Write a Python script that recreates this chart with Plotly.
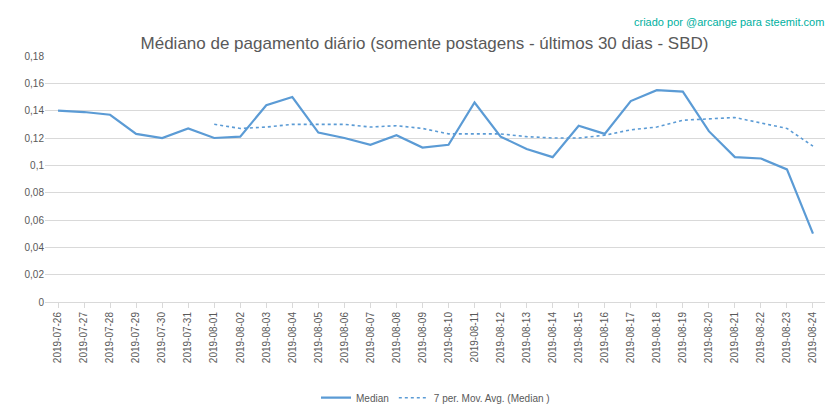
import plotly.graph_objects as go

dates = ["2019-07-26","2019-07-27","2019-07-28","2019-07-29","2019-07-30","2019-07-31",
         "2019-08-01","2019-08-02","2019-08-03","2019-08-04","2019-08-05","2019-08-06",
         "2019-08-07","2019-08-08","2019-08-09","2019-08-10","2019-08-11","2019-08-12",
         "2019-08-13","2019-08-14","2019-08-15","2019-08-16","2019-08-17","2019-08-18",
         "2019-08-19","2019-08-20","2019-08-21","2019-08-22","2019-08-23","2019-08-24"]
median = [0.140,0.139,0.137,0.123,0.120,0.127,0.120,0.121,0.144,0.150,0.124,0.120,
          0.115,0.122,0.113,0.115,0.146,0.121,0.112,0.106,0.129,0.123,0.147,0.155,
          0.154,0.125,0.106,0.105,0.097,0.050]
mov_avg = [None]*6 + [0.130,0.127,0.128,0.130,0.130,0.130,0.128,0.129,0.127,0.123,
           0.123,0.123,0.121,0.120,0.120,0.122,0.126,0.128,0.133,0.134,0.135,0.131,0.127,0.114]
yticks = [0,0.02,0.04,0.06,0.08,0.1,0.12,0.14,0.16,0.18]
yticktext = ["0","0,02","0,04","0,06","0,08","0,1","0,12","0,14","0,16","0,18"]

c = "#5b9bd5"
fig = go.Figure()
fig.add_trace(go.Scatter(x=dates, y=median, mode="lines", name="Median",
                         line=dict(color=c, width=2.2)))
fig.add_trace(go.Scatter(x=dates, y=mov_avg, mode="lines", name="7 per. Mov. Avg. (Median )",
                         line=dict(color=c, width=1.6, dash="dot")))
fig.update_layout(
    width=833, height=416, paper_bgcolor="white", plot_bgcolor="white",
    margin=dict(l=37, r=15, t=48, b=104),
    font=dict(family="Liberation Sans, Arial", color="#595959", size=11),
    title=dict(text="Médiano de pagamento diário (somente postagens - últimos 30 dias - SBD)",
               x=0.5, xanchor="center", y=0.915, yanchor="middle",
               font=dict(size=17, color="#595959")),
    xaxis=dict(type="category", range=[-0.5, 29.5], tickangle=-90, showgrid=False, showline=True,
               linecolor="#d9d9d9", ticks="outside", tickcolor="#d9d9d9", ticklen=5,
               tickfont=dict(size=10)),
    yaxis=dict(range=[0,0.18], tickvals=yticks, ticktext=yticktext, gridcolor="#d9d9d9",
               zeroline=False, showline=False, tickfont=dict(size=10)),
    legend=dict(orientation="h", x=0.5, xanchor="center", y=-0.33, yanchor="top",
                font=dict(size=10)),
    annotations=[dict(text="criado por @arcange para steemit.com", xref="paper", yref="paper",
                      x=1.0, y=1.17, xanchor="right", yanchor="top", showarrow=False,
                      font=dict(size=11, color="#00b0a0"))],
)
fig.write_html("out.html")
